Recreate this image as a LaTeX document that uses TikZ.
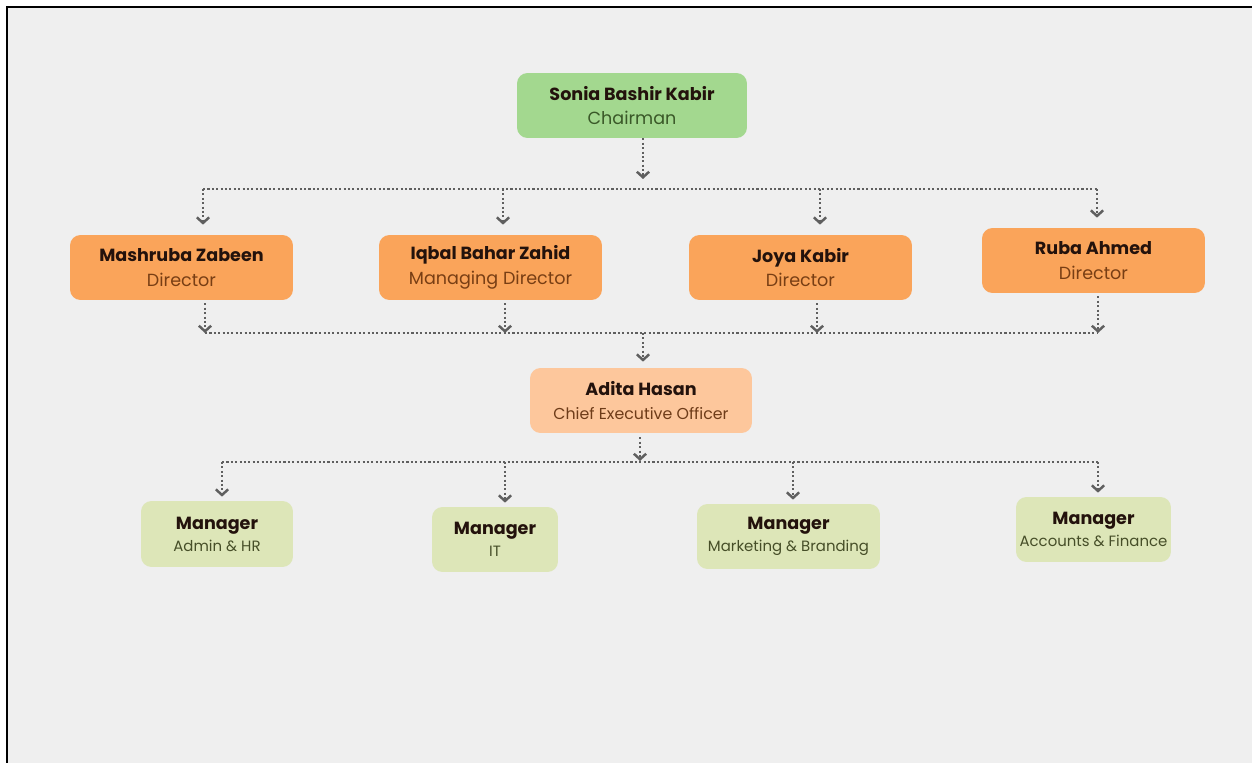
\documentclass[tikz,border=0pt]{standalone}
\usepackage{fontspec}
\setmainfont{Poppins}
\usetikzlibrary{arrows.meta,calc}
\definecolor{pagegray}{RGB}{239,239,239}
\definecolor{linkgray}{RGB}{95,95,95}
\definecolor{chairgreen}{RGB}{163,216,143}
\definecolor{chairtext}{RGB}{58,88,40}
\definecolor{dirorange}{RGB}{250,164,90}
\definecolor{dirtext}{RGB}{120,62,20}
\definecolor{ceopeach}{RGB}{253,199,156}
\definecolor{ceotext}{RGB}{110,60,25}
\definecolor{mgrolive}{RGB}{221,230,184}
\definecolor{mgrtext}{RGB}{70,78,40}
\definecolor{nameink}{RGB}{35,18,12}

\begin{document}
\begin{tikzpicture}[x=0.02cm, y=-0.02cm,
    box/.style={rounded corners=6pt, inner sep=0pt, align=center, text=nameink},
    bigbox/.style={box, font=\fontsize{10}{14}\selectfont},
    smallbox/.style={box, font=\fontsize{9}{12.5}\selectfont},
    dots/.style={draw=linkgray, line width=1.2pt, dash pattern=on 1.2pt off 1.3pt},
    link/.style={dots, -{Straight Barb[length=3.2pt, width=7pt, line width=1.4pt]}}]
  % Page
  \useasboundingbox (0,0) rectangle (1252,763);
  \fill[white] (0,0) rectangle (1252,763);
  \fill[pagegray] (8,8) rectangle (1252,763);
  \draw[black, line width=1.7pt] (7,763) -- (7,7) -- (1252,7);

  % Board
  \node[bigbox, fill=chairgreen, minimum width=4.6cm, minimum height=1.3cm] (chair) at (632,105.5)
    {\bfseries Sonia Bashir Kabir\\\textcolor{chairtext}{Chairman}};

  % Directors
  \node[bigbox, fill=dirorange, minimum width=4.46cm, minimum height=1.3cm] (dir1) at (181.5,267.5)
    {\bfseries Mashruba Zabeen\\\textcolor{dirtext}{Director}};
  \node[bigbox, fill=dirorange, minimum width=4.46cm, minimum height=1.3cm] (dir2) at (490.5,267.5)
    {\bfseries Iqbal Bahar Zahid\\\textcolor{dirtext}{Managing Director}};
  \node[bigbox, fill=dirorange, minimum width=4.46cm, minimum height=1.3cm] (dir3) at (800.5,267.5)
    {\bfseries Joya Kabir\\\textcolor{dirtext}{Director}};
  \node[bigbox, fill=dirorange, minimum width=4.46cm, minimum height=1.3cm] (dir4) at (1093.5,260.5)
    {\bfseries Ruba Ahmed\\\textcolor{dirtext}{Director}};

  % CEO
  \node[bigbox, fill=ceopeach, minimum width=4.44cm, minimum height=1.3cm] (ceo) at (641,400.5)
    {\bfseries Adita Hasan\\\textcolor{ceotext}{\fontsize{9}{12}\selectfont Chief Executive Officer}};

  % Managers
  \node[smallbox, fill=mgrolive, minimum width=3.04cm, minimum height=1.32cm] (mgr1) at (217,534)
    {{\fontsize{10}{13}\selectfont\bfseries Manager}\\\textcolor{mgrtext}{\fontsize{8.5}{12}\selectfont Admin \& HR}};
  \node[smallbox, fill=mgrolive, minimum width=2.52cm, minimum height=1.3cm] (mgr2) at (495,539.5)
    {{\fontsize{10}{13}\selectfont\bfseries Manager}\\\textcolor{mgrtext}{\fontsize{8.5}{12}\selectfont IT}};
  \node[smallbox, fill=mgrolive, minimum width=3.66cm, minimum height=1.3cm] (mgr3) at (788.5,536.5)
    {{\fontsize{10}{13}\selectfont\bfseries Manager}\\\textcolor{mgrtext}{\fontsize{8.5}{12}\selectfont Marketing \& Branding}};
  \node[smallbox, fill=mgrolive, minimum width=3.1cm, minimum height=1.3cm] (mgr4) at (1093.5,529.5)
    {{\fontsize{10}{13}\selectfont\bfseries Manager}\\\textcolor{mgrtext}{\fontsize{8.5}{12}\selectfont Accounts \& Finance}};

  % Junctions
  \coordinate (top) at (643,179);
  \coordinate (busA1) at (203,189);
  \coordinate (busA2) at (503,189);
  \coordinate (busA3) at (820,189);
  \coordinate (busA4) at (1097,189);
  \coordinate (busB1) at (205,333);
  \coordinate (busB2) at (505,333);
  \coordinate (busB3) at (817,333);
  \coordinate (busB4) at (1098,333);
  \coordinate (busB0) at (643,333);
  \coordinate (mid) at (640,461);
  \coordinate (busC1) at (222,462);
  \coordinate (busC2) at (505,462);
  \coordinate (busC3) at (793,462);
  \coordinate (busC4) at (1098,462);

  % Chairman to directors
  \draw[link] (chair.south -| top) -- (top);
  \draw[dots] (busA1) -- (busA4);
  \foreach \i in {1,...,4}
    \draw[link, shorten >=0.2cm] (busA\i) -- (dir\i.north -| busA\i);

  % Directors to CEO
  \foreach \i in {1,...,4}
    \draw[link, shorten <=0.06cm] (dir\i.south -| busB\i) -- (busB\i);
  \draw[dots] (busB1) -- (busB4);
  \draw[link, shorten >=0.12cm] (busB0) -- (ceo.north -| busB0);

  % CEO to managers
  \draw[link, shorten <=0.08cm] (ceo.south -| mid) -- (mid);
  \draw[dots] (busC1) -- (busC4);
  \foreach \i in {1,...,4}
    \draw[link, shorten >=0.08cm] (busC\i) -- (mgr\i.north -| busC\i);
\end{tikzpicture}
\end{document}
